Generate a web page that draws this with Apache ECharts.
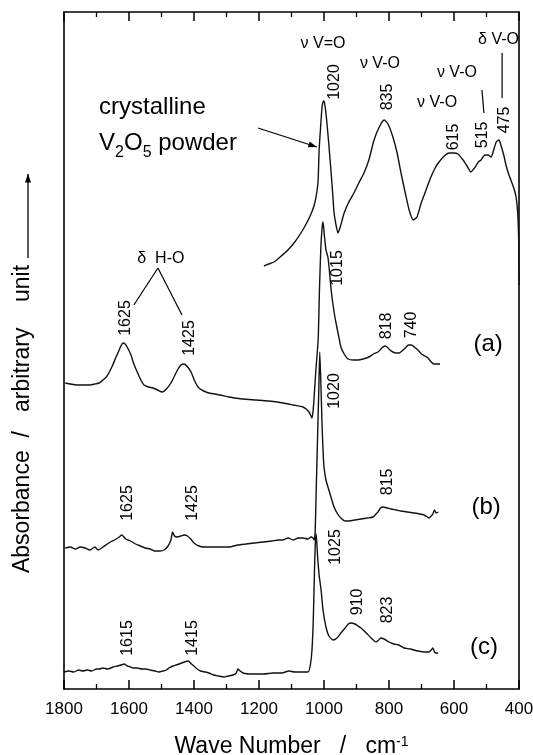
<!DOCTYPE html>
<html>
<head>
<meta charset="utf-8">
<script src="https://cdn.jsdelivr.net/npm/echarts@6/dist/echarts.min.js"></script>
<style>
html,body{margin:0;padding:0;background:#fff}
#chart{width:533px;height:755px}
</style>
</head>
<body>
<div id="chart"></div>
<script>
// spectra: [wave number, absorbance (arb.)]
var powder = [[1185,424],[1170,426],[1154,428],[1135,433],[1111,440],[1090,448],[1071,457],[1055,466],[1040,476],[1030,485],[1022,498],[1018,510],[1015,540],[1010,565],[1006,583],[1003,588],[1000,589],[996,582],[991,567],[985,545],[978,517],[973,495],[969,477],[963,465],[957,457],[950,463],[938,477],[925,487],[908,497],[893,507],[877,517],[862,530],[846,550],[830,563],[815,570],[803,566],[788,553],[775,537],[763,517],[750,497],[738,480],[726,470],[714,473],[701,487],[686,500],[671,513],[658,522],[646,528],[630,534],[615,537],[600,537],[588,536],[572,530],[560,524],[548,518],[537,522],[525,528],[517,530],[505,535],[495,535],[486,533],[478,540],[470,548],[462,550],[455,544],[447,535],[440,525],[432,516],[425,510],[416,502],[409,493],[404,477],[401,450],[400,405]]
var specA = [[1796,307],[1780,306],[1760,305],[1742,305],[1720,305],[1705,306],[1692,307],[1680,310],[1670,313],[1662,317],[1650,325],[1640,333],[1634,337],[1625,344],[1618,347],[1612,346],[1604,342],[1594,335],[1585,326],[1572,316],[1562,309],[1554,305],[1540,303],[1526,302],[1512,300],[1498,298],[1485,301],[1471,307],[1460,314],[1449,321],[1440,325],[1431,326],[1422,324],[1409,318],[1398,309],[1385,302],[1370,299],[1354,297],[1320,295],[1292,293],[1250,291],[1209,290],[1170,289],[1126,287],[1095,285],[1065,283],[1055,281],[1046,278],[1040,274],[1037,272],[1034,278],[1031,290],[1025,320],[1018,350],[1014,400],[1010,440],[1006,462],[1003,468],[999,455],[994,440],[988,433],[983,418],[978,400],[970,380],[963,367],[955,354],[948,343],[938,336],[926,331],[910,330],[895,330],[880,331],[862,333],[848,336],[834,338],[822,342],[813,344],[806,343],[797,340],[788,338],[778,337],[769,337],[760,339],[750,342],[740,345],[731,345],[722,343],[711,340],[700,336],[690,334],[680,332],[670,328],[662,326],[650,326],[643,326]]
var specB = [[1796,142],[1780,143],[1765,141],[1750,143],[1735,142],[1720,140],[1705,143],[1695,140],[1680,143],[1662,147],[1645,150],[1630,153],[1622,155],[1610,151],[1595,149],[1580,146],[1565,144],[1550,142],[1535,141],[1520,139],[1505,139],[1492,140],[1480,144],[1471,150],[1466,158],[1460,154],[1452,153],[1440,154],[1430,155],[1420,154],[1410,151],[1400,147],[1385,144],[1370,143],[1350,143],[1320,143],[1292,143],[1265,145],[1240,146],[1215,147],[1188,148],[1160,149],[1140,150],[1126,150],[1110,152],[1095,150],[1080,152],[1065,152],[1050,151],[1040,153],[1034,152],[1030,150],[1027,160],[1024,200],[1020,250],[1016,300],[1013,338],[1009,300],[1006,265],[1003,240],[1000,223],[994,210],[985,200],[969,183],[958,176],[948,172],[935,169],[923,169],[905,170],[886,171],[866,172],[849,173],[840,176],[834,178],[826,182],[818,183],[805,182],[794,181],[778,180],[763,179],[743,178],[723,177],[705,176],[692,175],[682,173],[677,172],[670,174],[665,176],[660,180],[655,177],[648,178]]
var specC = [[1800,18],[1785,19],[1770,18],[1755,20],[1742,19],[1728,20],[1715,19],[1700,21],[1692,21],[1680,22],[1665,21],[1649,23],[1635,24],[1625,25],[1615,26],[1605,24],[1595,23],[1588,22],[1575,22],[1560,21],[1548,21],[1535,20],[1520,19],[1508,18],[1495,19],[1485,20],[1477,22],[1465,24],[1455,25],[1446,26],[1430,28],[1418,29],[1408,26],[1400,24],[1394,22],[1380,19],[1365,18],[1354,17],[1340,15],[1325,14],[1308,13],[1295,14],[1280,15],[1270,17],[1265,21],[1258,19],[1249,17],[1230,16],[1209,16],[1185,16],[1157,17],[1130,17],[1108,19],[1090,18],[1070,18],[1049,18],[1042,25],[1037,40],[1033,70],[1030,110],[1027,145],[1024,156],[1020,135],[1015,115],[1009,100],[1003,80],[994,63],[985,54],[972,50],[960,52],[948,57],[935,62],[925,66],[917,67],[905,66],[895,64],[886,62],[870,57],[855,52],[845,49],[840,48],[832,50],[825,52],[815,51],[800,48],[785,46],[770,45],[754,42],[735,41],[711,39],[690,38],[677,38],[670,40],[665,42],[660,38],[655,37],[649,37]]

// peak numbers, written vertically: [text, wave number, absorbance]
var peakLabels = [["1020",966,608],["835",803,593],["615",600,553],["515",511,555],["475",443,570],
	["1015",957,422],["1625",1609,372],["1425",1415,352],["818",806,364],["740",732,365],
	["1020",966,299],["815",803,208],["1625",1603,187],["1425",1403,187],
	["1025",963,143],["910",898,88],["823",803,80],["1615",1603,52],["1415",1403,52]]
// band names (horizontal)
var bandLabels = [["ν V=O",1003,646],["ν V-O",828,626],["ν V-O",591,617],["ν V-O",652,587],["δ V-O",463,650],["δ  H-O",1502,431]]
var traceLabels = [["(a)",495,346],["(b)",501,183],["(c)",508,43]]
// leader lines [x1,y1,x2,y2] in data units
var leaders = [[452,637,452,592],[514,600,508,577],[1511,422,1585,385],[1511,422,1437,375]]
var arrowFrom = [1203,562], arrowTo = [1022,543]

var FONT = "Arial, 'Liberation Sans', sans-serif"
var chart = echarts.init(document.getElementById("chart"))

function line(data){
	return {type:"line",data:data,showSymbol:false,smooth:0.2,silent:true,
		lineStyle:{color:"#111",width:1.4}}
}
var axisBase = {type:"value",min:400,max:1800,interval:200,inverse:true,
	axisLine:{show:true,lineStyle:{color:"#000",width:1.6}},
	axisTick:{show:true,inside:true,length:9,lineStyle:{color:"#000",width:1.5}},
	minorTick:{show:true,splitNumber:2,length:5,lineStyle:{color:"#000",width:1.3}},
	splitLine:{show:false}}

chart.setOption({
	animation:false,
	backgroundColor:"#fff",
	grid:{left:64,right:14,top:12,bottom:66,outerBoundsMode:"none",containLabel:false},
	xAxis:[
		Object.assign({},axisBase,{position:"bottom",
			axisLabel:{color:"#000",fontSize:17,fontFamily:FONT,margin:12,formatter:function(v){return String(v)}},
			name:"Wave Number   /   cm{sup|-1}",nameLocation:"middle",nameGap:46,
			nameTextStyle:{color:"#000",fontSize:23,fontFamily:FONT,
				rich:{sup:{fontSize:14,fontFamily:FONT,color:"#000",padding:[0,0,9,0]}}}}),
		Object.assign({},axisBase,{position:"top",axisLabel:{show:false}})
	],
	yAxis:[
		{type:"value",min:1,max:678,position:"left",axisLine:{show:true,lineStyle:{color:"#000",width:1.6}},
			axisTick:{show:false},axisLabel:{show:false},splitLine:{show:false}},
		{type:"value",min:1,max:678,position:"right",axisLine:{show:true,lineStyle:{color:"#000",width:1.6}},
			axisTick:{show:false},axisLabel:{show:false},splitLine:{show:false}}
	],
	series:[line(powder),line(specA),line(specB),line(specC)]
})

// annotations are placed in data units and converted to pixels
function px(x,y){ return chart.convertToPixel({xAxisIndex:0,yAxisIndex:0},[x,y]) }
var g = []
peakLabels.forEach(function(p){
	var q = px(p[1],p[2])
	g.push({type:"text",x:q[0],y:q[1],rotation:Math.PI/2,silent:true,
		style:{text:p[0],fontSize:16,fontFamily:FONT,fill:"#000",align:"center",verticalAlign:"middle"}})
})
bandLabels.forEach(function(p){
	var q = px(p[1],p[2])
	g.push({type:"text",x:q[0],y:q[1],silent:true,
		style:{text:p[0],fontSize:16,fontFamily:FONT,fill:"#000",align:"center",verticalAlign:"middle"}})
})
traceLabels.forEach(function(p){
	var q = px(p[1],p[2])
	g.push({type:"text",x:q[0],y:q[1],silent:true,
		style:{text:p[0],fontSize:24,fontFamily:FONT,fill:"#000",align:"center",verticalAlign:"middle"}})
})
leaders.forEach(function(l){
	var a = px(l[0],l[1]), b = px(l[2],l[3])
	g.push({type:"line",silent:true,shape:{x1:a[0],y1:a[1],x2:b[0],y2:b[1]},style:{stroke:"#000",lineWidth:1.2}})
})
// "crystalline V2O5 powder" with its arrow
var t1 = px(1692,583), t2 = px(1692,550)
g.push({type:"text",x:t1[0],y:t1[1],silent:true,
	style:{text:"crystalline",fontSize:24,fontFamily:FONT,fill:"#000",align:"left",verticalAlign:"middle"}})
g.push({type:"text",x:t2[0],y:t2[1]+3,silent:true,
	style:{text:"V{s|2}O{s|5} powder",fontSize:24,fontFamily:FONT,fill:"#000",align:"left",verticalAlign:"middle",
		rich:{s:{fontSize:16,fontFamily:FONT,fill:"#000",padding:[20,0,0,0]}}}})
function arrow(a,b,size){
	var ang = Math.atan2(b[1]-a[1],b[0]-a[0])
	var l = [b[0]-size*Math.cos(ang-0.35),b[1]-size*Math.sin(ang-0.35)]
	var r = [b[0]-size*Math.cos(ang+0.35),b[1]-size*Math.sin(ang+0.35)]
	g.push({type:"line",silent:true,shape:{x1:a[0],y1:a[1],x2:b[0],y2:b[1]},style:{stroke:"#000",lineWidth:1.3}})
	g.push({type:"polygon",silent:true,shape:{points:[b,l,r]},style:{fill:"#000"}})
}
arrow(px(arrowFrom[0],arrowFrom[1]),px(arrowTo[0],arrowTo[1]),9)
// y axis title with its upward arrow
g.push({type:"text",x:23,y:419,rotation:Math.PI/2,silent:true,
	style:{text:"Absorbance  /   arbitrary    unit",fontSize:23,fontFamily:FONT,fill:"#000",align:"center",verticalAlign:"middle"}})
arrow([28,258],[28,174],9)
chart.setOption({graphic:g})
</script>
</body>
</html>
